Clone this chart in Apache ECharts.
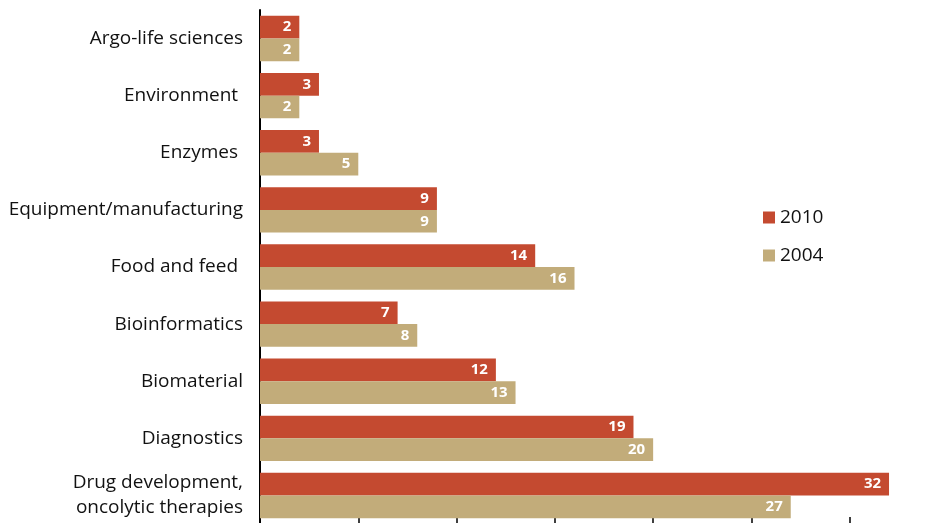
<!DOCTYPE html>
<html>
<head>
<meta charset="utf-8">
<script src="https://cdn.jsdelivr.net/npm/echarts@6/dist/echarts.min.js"></script>
<style>
  html, body { margin: 0; padding: 0; background: #fff; }
  #chart { width: 941px; height: 523px; }
</style>
</head>
<body>
<div id="chart"></div>
<script>
// 类目与数据
var categories = ['Argo-life sciences', 'Environment ', 'Enzymes ', 'Equipment/manufacturing',
    'Food and feed ', 'Bioinformatics', 'Biomaterial', 'Diagnostics', 'Drug development,\noncolytic therapies'];
var values2010 = [2, 3, 3, 9, 14, 7, 12, 19, 32];
var values2004 = [2, 2, 5, 9, 16, 8, 13, 20, 27];
var seriesNames = ['2010', '2004'];

var chart = echarts.init(document.getElementById('chart'));

var barLabel = {
    show: true,
    position: 'insideRight',
    distance: 8,
    color: '#fff',
    fontWeight: 'bold',
    fontSize: 15,
    fontFamily: 'Open Sans'
};

var option = {
    animation: false,
    textStyle: { fontFamily: 'Open Sans' },
    legend: {
        data: seriesNames,
        orient: 'vertical',
        left: 758,
        top: 203,
        icon: 'rect',
        itemWidth: 12,
        itemHeight: 12,
        itemGap: 19,
        textStyle: { fontSize: 19, color: '#111', fontFamily: 'Open Sans' }
    },
    grid: { left: 260, top: 10, width: 688, height: 514, containLabel: false, outerBoundsMode: 'none' },
    xAxis: {
        type: 'value',
        min: 0,
        max: 35,
        interval: 5,
        splitLine: { show: false },
        axisLine: { show: true, lineStyle: { color: '#000', width: 1.5 } },
        axisTick: { show: true, inside: true, length: 7, lineStyle: { color: '#000', width: 1.5 } },
        axisLabel: { show: false }
    },
    yAxis: {
        type: 'category',
        inverse: true,
        data: categories,
        axisLine: { lineStyle: { color: '#000', width: 2 } },
        axisTick: { length: 5, lineStyle: { color: '#000', width: 1.5 } },
        axisLabel: {
            margin: 17,
            fontSize: 19,
            color: '#111',
            lineHeight: 25,
            fontFamily: 'Open Sans'
        }
    },
    series: [
        {
            name: seriesNames[0],
            type: 'bar',
            data: values2010,
            barGap: '0%',
            barCategoryGap: '20.5%',
            itemStyle: { color: '#C44A30' },
            label: barLabel
        },
        {
            name: seriesNames[1],
            type: 'bar',
            data: values2004,
            itemStyle: { color: '#C2AC7A' },
            label: barLabel
        }
    ]
};

chart.setOption(option);
</script>
</body>
</html>
